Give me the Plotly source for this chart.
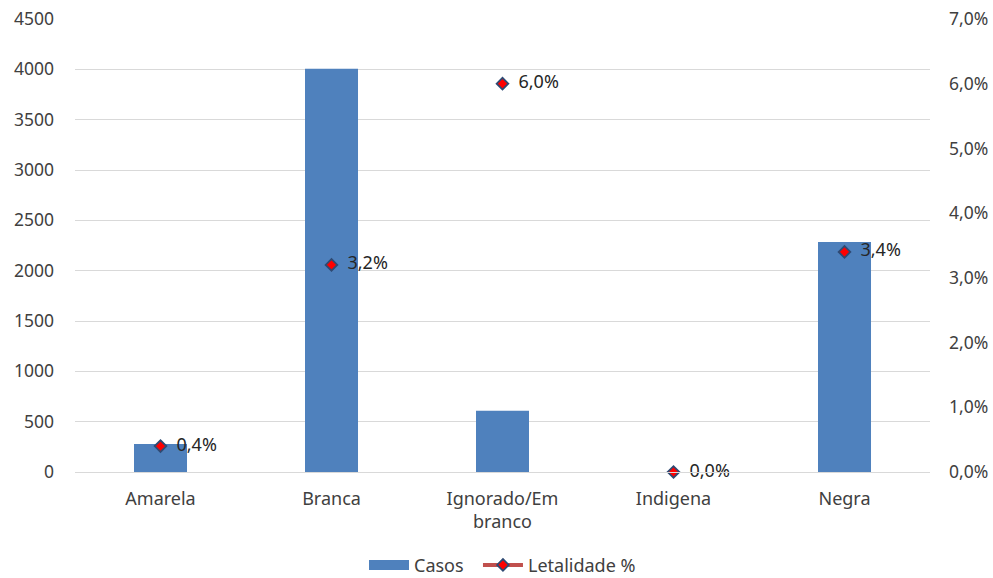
import plotly.graph_objects as go

categorias = ["Amarela", "Branca", "Ignorado/Em<br>branco", "Indigena", "Negra"]
casos = [278, 4005, 608, 0, 2285]
letalidade = [0.4, 3.2, 6.0, 0.0, 3.4]

font_family = "Noto Sans, Liberation Sans, sans-serif"
text_color = "#404040"
label_color = "#262626"

fig = go.Figure()

fig.add_trace(go.Bar(
    x=categorias, y=casos, name="Casos", showlegend=False,
    marker=dict(color="#4F81BD", line=dict(width=0)),
    width=0.31, yaxis="y",
))

# Letalidade points with their value labels (no connecting line)
fig.add_trace(go.Scatter(
    x=categorias, y=letalidade, name="Letalidade %", showlegend=False,
    mode="markers+text",
    marker=dict(symbol="diamond", size=9, color="#FF0000",
                line=dict(color="#2F4A73", width=1.8)),
    text=["  " + f"{v:.1f}%".replace(".", ",") for v in letalidade],
    textposition="middle right",
    textfont=dict(size=18, color=label_color, family=font_family),
    yaxis="y2", cliponaxis=False,
))

# legend keys
fig.add_trace(go.Scatter(
    x=[None], y=[None], name="Casos\u00a0\u00a0", mode="lines",
    line=dict(color="#4F81BD", width=11), yaxis="y",
))
fig.add_trace(go.Scatter(
    x=[None], y=[None], name="Letalidade %", mode="lines+markers",
    line=dict(color="#C0504D", width=4),
    marker=dict(symbol="diamond", size=9, color="#FF0000",
                line=dict(color="#2F4A73", width=1.8)),
    yaxis="y2",
))

fig.update_layout(
    width=993, height=578,
    margin=dict(l=75, r=63, t=19, b=106, autoexpand=False),
    paper_bgcolor="white", plot_bgcolor="white",
    font=dict(family=font_family, size=17, color=text_color),
    separators=", ",
    showlegend=True,
    legend=dict(orientation="h", x=0.5, xanchor="center",
                yref="container", y=0.022, yanchor="middle",
                font=dict(size=18, color=text_color),
                itemwidth=40, tracegroupgap=0),
    xaxis=dict(showgrid=False, showline=True, linecolor="#D9D9D9", linewidth=1,
               ticks="", tickfont=dict(size=18, color=text_color),
               ticklabelstandoff=10),
    yaxis=dict(range=[0, 4500], dtick=500, showgrid=True, gridcolor="#D9D9D9",
               gridwidth=1, zeroline=False, showline=False, ticks="",
               tickfont=dict(size=17.5, color=text_color), ticklabelstandoff=20),
    yaxis2=dict(range=[0, 7], dtick=1, overlaying="y", side="right",
                showgrid=False, zeroline=False, showline=False, ticks="",
                tickformat=".1f", ticksuffix="%",
                tickfont=dict(size=17.5, color=text_color), ticklabelstandoff=18),
)

fig.write_html("out.html")
